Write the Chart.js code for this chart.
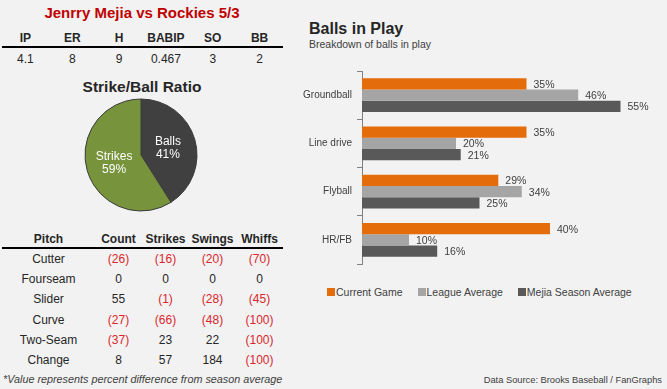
<!DOCTYPE html>
<html>
<head>
<meta charset="utf-8">
<script src="https://cdn.jsdelivr.net/npm/chart.js@4/dist/chart.umd.min.js"></script>
<style>
  html, body { margin:0; padding:0; }
  body { width:667px; height:389px; background:#f2f2f2; overflow:hidden; position:relative;
         font-family: Arial, "Liberation Sans", sans-serif; color:#262626; }
  .abs { position:absolute; }
  .title { left:0; width:284px; top:4px; text-align:center; font-weight:bold; font-size:15px; color:#c00000; }
  table { border-collapse:collapse; table-layout:fixed; }
  td, th { padding:0; text-align:center; font-size:12px; }
  th { font-weight:bold; }
  .neg { color:#d9262d; }
  #stats { left:2px; top:30px; width:281px; }
  #stats th { height:16px; border-bottom:2px solid #000; }
  #stats td { height:22px; }
  .sub { left:0; width:284px; top:78px; text-align:center; font-weight:bold; font-size:15.5px; color:#262626; }
  #pitches { left:2px; top:231px; width:281px; }
  #pitches th { height:16px; border-bottom:2px solid #000; }
  #pitches td { height:20.2px; }
  .foot { left:3px; top:373px; font-size:10.8px; font-style:italic; color:#404040; }
  .bipTitle { left:309px; top:20px; font-size:16px; font-weight:bold; color:#262626; }
  .bipSub { left:309px; top:38px; font-size:10.5px; color:#404040; }
  #legend { left:327px; top:286px; display:flex; gap:15px; font-size:10.5px; color:#404040; }
  #legend span.box { display:inline-block; width:8px; height:8px; margin-right:1px; }
  .src { right:5px; top:375px; font-size:9.3px; color:#404040; }
</style>
</head>
<body>
<div class="abs title">Jenrry Mejia vs Rockies 5/3</div>
<table class="abs" id="stats"><thead><tr id="statHead"></tr></thead><tbody><tr id="statRow"></tr></tbody></table>
<div class="abs sub">Strike/Ball Ratio</div>
<canvas id="pie" class="abs" width="120" height="120" style="left:81px;top:95px;"></canvas>
<table class="abs" id="pitches">
  <colgroup><col style="width:93px"><col style="width:47px"><col style="width:47px"><col style="width:47px"><col style="width:47px"></colgroup>
  <thead><tr id="pitchHead"></tr></thead><tbody id="pitchBody"></tbody>
</table>
<div class="abs foot">*Value represents percent difference from season average</div>

<div class="abs bipTitle">Balls in Play</div>
<div class="abs bipSub">Breakdown of balls in play</div>
<canvas id="bip" class="abs" width="367" height="215" style="left:300px;top:60px;"></canvas>
<div class="abs" id="legend"></div>
<div class="abs src">Data Source: Brooks Baseball / FanGraphs</div>

<script>
// game line
const statHeaders = ["IP", "ER", "H", "BABIP", "SO", "BB"];
const statValues = ["4.1", "8", "9", "0.467", "3", "2"];

// strike/ball split
const pieLabels = ["Balls", "Strikes"];
const pieValues = [41, 59];
const pieColors = ["#404040", "#77933c"];

// pitch mix, % diff vs season avg (negative shown in parens)
const pitchHeaders = ["Pitch", "Count", "Strikes", "Swings", "Whiffs"];
const pitchNames = ["Cutter", "Fourseam", "Slider", "Curve", "Two-Seam", "Change"];
const pitchCount = [-26, 0, 55, -27, -37, 8];
const pitchStrikes = [-16, 0, -1, -66, 23, 57];
const pitchSwings = [-20, 0, -28, -48, 22, 184];
const pitchWhiffs = [-70, 0, -45, -100, -100, -100];

// balls in play
const bipCategories = ["Groundball", "Line drive", "Flyball", "HR/FB"];
const currentGame = [35, 35, 29, 40];
const leagueAvg = [46, 20, 34, 10];
const seasonAvg = [55, 21, 25, 16];
const seriesNames = ["Current Game", "League Average", "Mejia Season Average"];
const seriesColors = ["#e46c0a", "#a5a5a5", "#595959"];

function fmt(v){ return v < 0 ? `<span class="neg">(${-v})</span>` : String(v); }

function renderTables() {
  document.getElementById("statHead").innerHTML = statHeaders.map(h => `<th>${h}</th>`).join("");
  document.getElementById("statRow").innerHTML = statValues.map(v => `<td>${v}</td>`).join("");
  document.getElementById("pitchHead").innerHTML = pitchHeaders.map(h => `<th>${h}</th>`).join("");
  const body = document.getElementById("pitchBody");
  pitchNames.forEach((name, i) => {
    const tr = document.createElement("tr");
    tr.innerHTML = `<td>${name}</td><td>${fmt(pitchCount[i])}</td><td>${fmt(pitchStrikes[i])}</td><td>${fmt(pitchSwings[i])}</td><td>${fmt(pitchWhiffs[i])}</td>`;
    body.appendChild(tr);
  });
}

function renderLegend() {
  document.getElementById("legend").innerHTML = seriesNames.map((n, i) =>
    `<div><span class="box" style="background:${seriesColors[i]}"></span>${n}</div>`).join("");
}

// labels inside the pie slices
const pieLabelPlugin = {
  id: "pieLabels",
  afterDatasetsDraw(chart) {
    const ctx = chart.ctx;
    const meta = chart.getDatasetMeta(0);
    ctx.save();
    ctx.fillStyle = "#fff";
    ctx.font = "12px Arial";
    ctx.textAlign = "center";
    ctx.textBaseline = "middle";
    meta.data.forEach((arc, i) => {
      const p = arc.tooltipPosition();
      ctx.fillText(pieLabels[i], p.x, p.y - 6);
      ctx.fillText(pieValues[i] + "%", p.x, p.y + 7);
    });
    ctx.restore();
  }
};

// value labels at bar ends
const barLabelPlugin = {
  id: "barLabels",
  afterDatasetsDraw(chart) {
    const ctx = chart.ctx;
    ctx.save();
    ctx.fillStyle = "#404040";
    ctx.font = "10.5px Arial";
    ctx.textAlign = "left";
    ctx.textBaseline = "middle";
    chart.data.datasets.forEach((ds, di) => {
      chart.getDatasetMeta(di).data.forEach((bar, i) => {
        ctx.fillText(ds.data[i] + "%", bar.x + 7, bar.y + 1);
      });
    });
    ctx.restore();
  }
};

function renderCharts() {
  new Chart(document.getElementById("pie"), {
    type: "pie",
    data: { labels: pieLabels, datasets: [{ data: pieValues, backgroundColor: pieColors, borderColor: "#3a3a3a", borderWidth: 1 }] },
    options: { responsive:false, animation:false, radius:56,
      plugins:{ legend:{display:false}, tooltip:{enabled:false} } },
    plugins: [pieLabelPlugin]
  });

  const allSeries = [currentGame, leagueAvg, seasonAvg];
  new Chart(document.getElementById("bip"), {
    type: "bar",
    data: {
      labels: bipCategories,
      datasets: allSeries.map((d, i) => ({ label: seriesNames[i], data: d, backgroundColor: seriesColors[i],
        categoryPercentage: 0.7, barPercentage: 1.0 }))
    },
    options: {
      indexAxis: "y", responsive:false, animation:false,
      layout: { padding: { top:7, bottom:8, right:23, left:0 } },
      scales: {
        x: { display:false, min:0, max:60 },
        y: {
          afterFit(scale){ scale.width = 62; },
          grid: { drawOnChartArea:false, drawTicks:true, tickLength:5, color:"#7f7f7f", offset:true },
          border: { display:true, color:"#7f7f7f" },
          ticks: { color:"#404040", font:{ family:"Arial", size:10 }, padding:5 }
        }
      },
      plugins: { legend:{display:false}, tooltip:{enabled:false} }
    },
    plugins: [barLabelPlugin]
  });
}

renderTables();
renderLegend();
renderCharts();
</script>
</body>
</html>
